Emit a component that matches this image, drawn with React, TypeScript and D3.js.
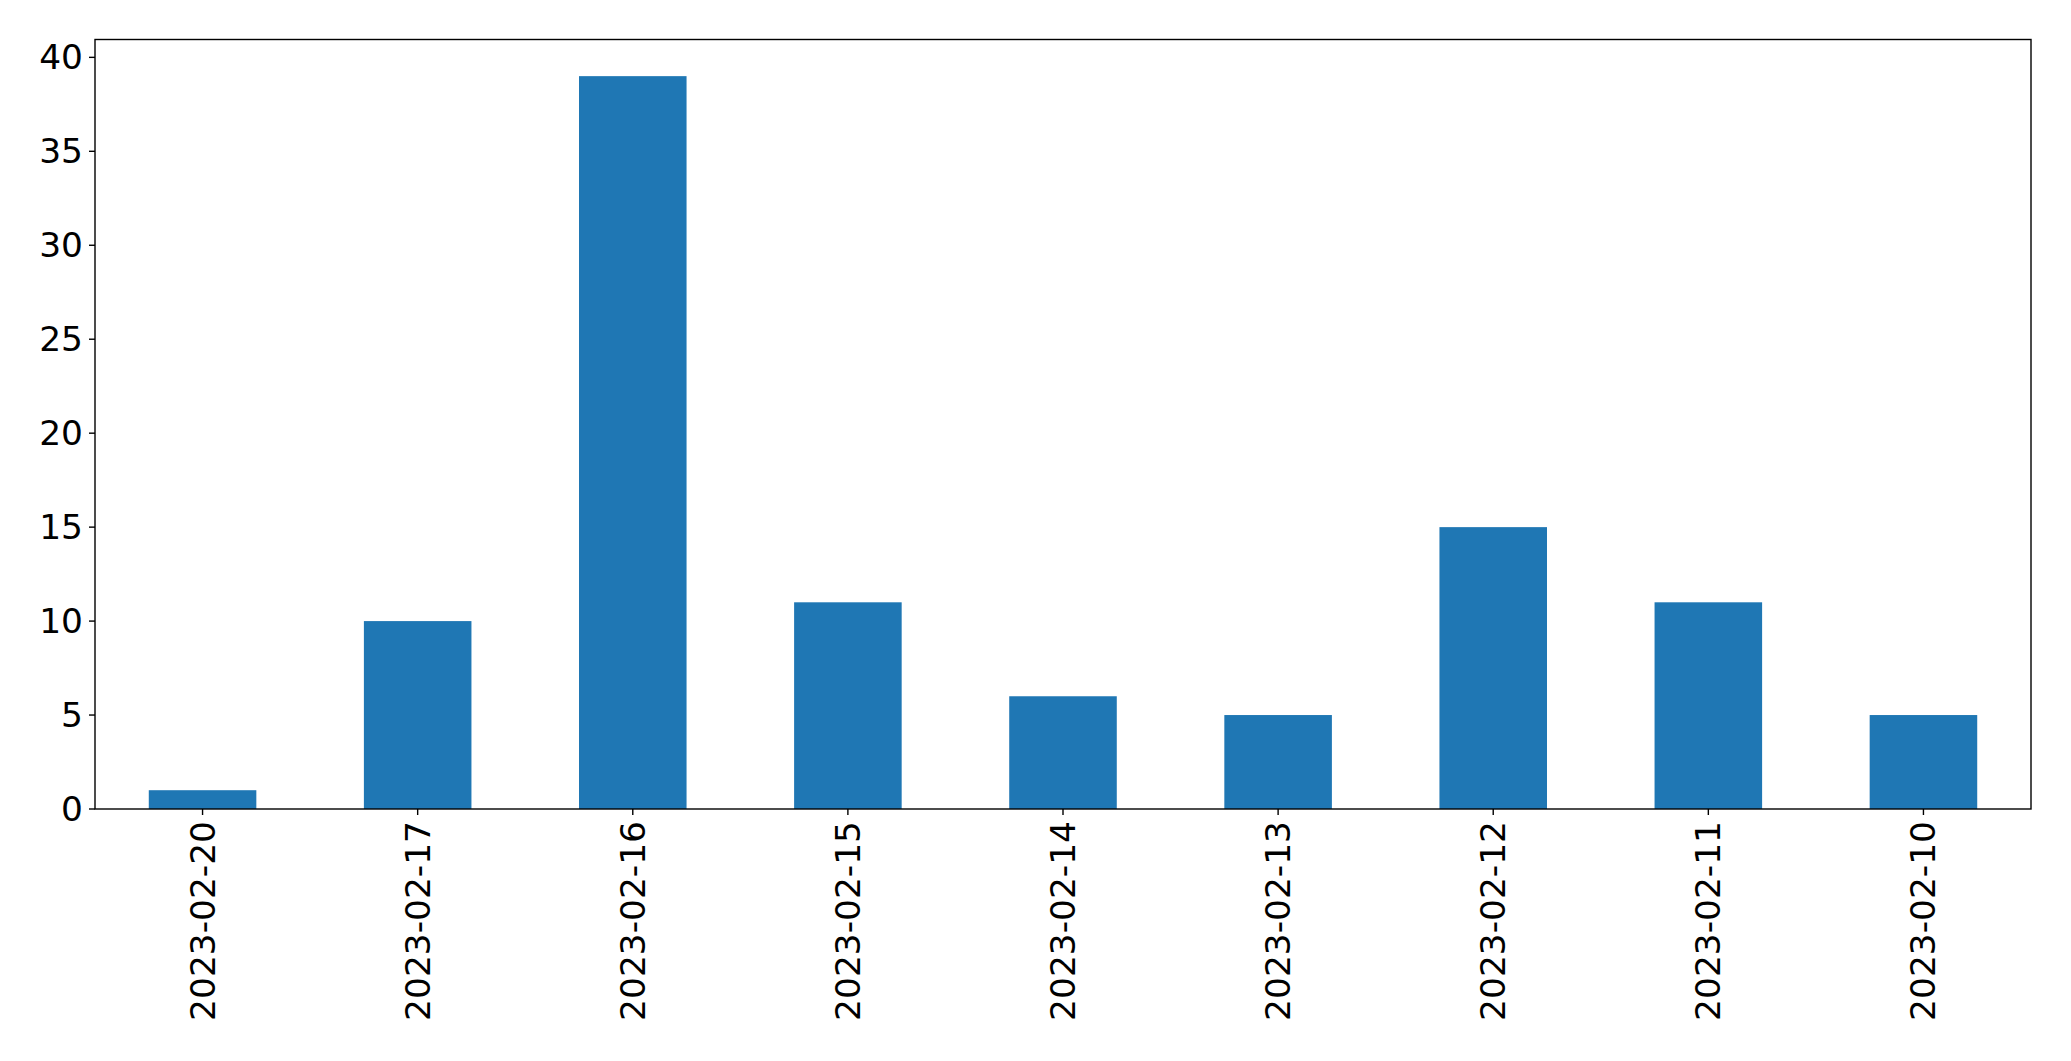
import React from "react";
import * as d3 from "d3";

const categories = ["2023-02-20", "2023-02-17", "2023-02-16", "2023-02-15", "2023-02-14", "2023-02-13", "2023-02-12", "2023-02-11", "2023-02-10"];
const values = [1, 10, 39, 11, 6, 5, 15, 11, 5];
const yTicks = [0, 5, 10, 15, 20, 25, 30, 35, 40];

export default function App() {
  const W = 2071, H = 1061;
  const left = 95, right = 2031, top = 39.5, bottom = 809;
  const x = d3.scaleLinear().domain([-0.5, categories.length - 0.5]).range([left, right]);
  const y = d3.scaleLinear().domain([0, d3.max(values)! * 1.05]).range([bottom, top]);
  const bw = x(0.5) - x(0);
  const fs = 34.4;
  const tl = 6;
  const font = "DejaVu Sans, sans-serif";
  return (
    <svg width={W} height={H} style={{ position: "absolute", left: 0, top: 0, background: "#fff" }}>
      <rect x={0} y={0} width={W} height={H} fill="#fff" />
      {values.map((v, i) => (
        <rect key={i} x={x(i) - bw / 2} y={y(v)} width={bw} height={y(0) - y(v)} fill="#1f77b4" />
      ))}
      <rect x={left} y={top} width={right - left} height={bottom - top} fill="none" stroke="#000" strokeWidth={1.4} />
      {yTicks.map((t) => (
        <g key={t}>
          <line x1={left - tl} x2={left} y1={y(t)} y2={y(t)} stroke="#000" strokeWidth={1.4} />
          <text x={left - tl - 6} y={y(t)} textAnchor="end" dominantBaseline="central" fontSize={fs} fontFamily={font} fill="#000">{t}</text>
        </g>
      ))}
      {categories.map((c, i) => (
        <g key={c}>
          <line x1={x(i)} x2={x(i)} y1={bottom} y2={bottom + tl} stroke="#000" strokeWidth={1.4} />
          <text transform={`translate(${x(i)},${bottom + tl + 6}) rotate(-90)`} textAnchor="end" dominantBaseline="central" fontSize={fs} fontFamily={font} fill="#000">{c}</text>
        </g>
      ))}
    </svg>
  );
}
